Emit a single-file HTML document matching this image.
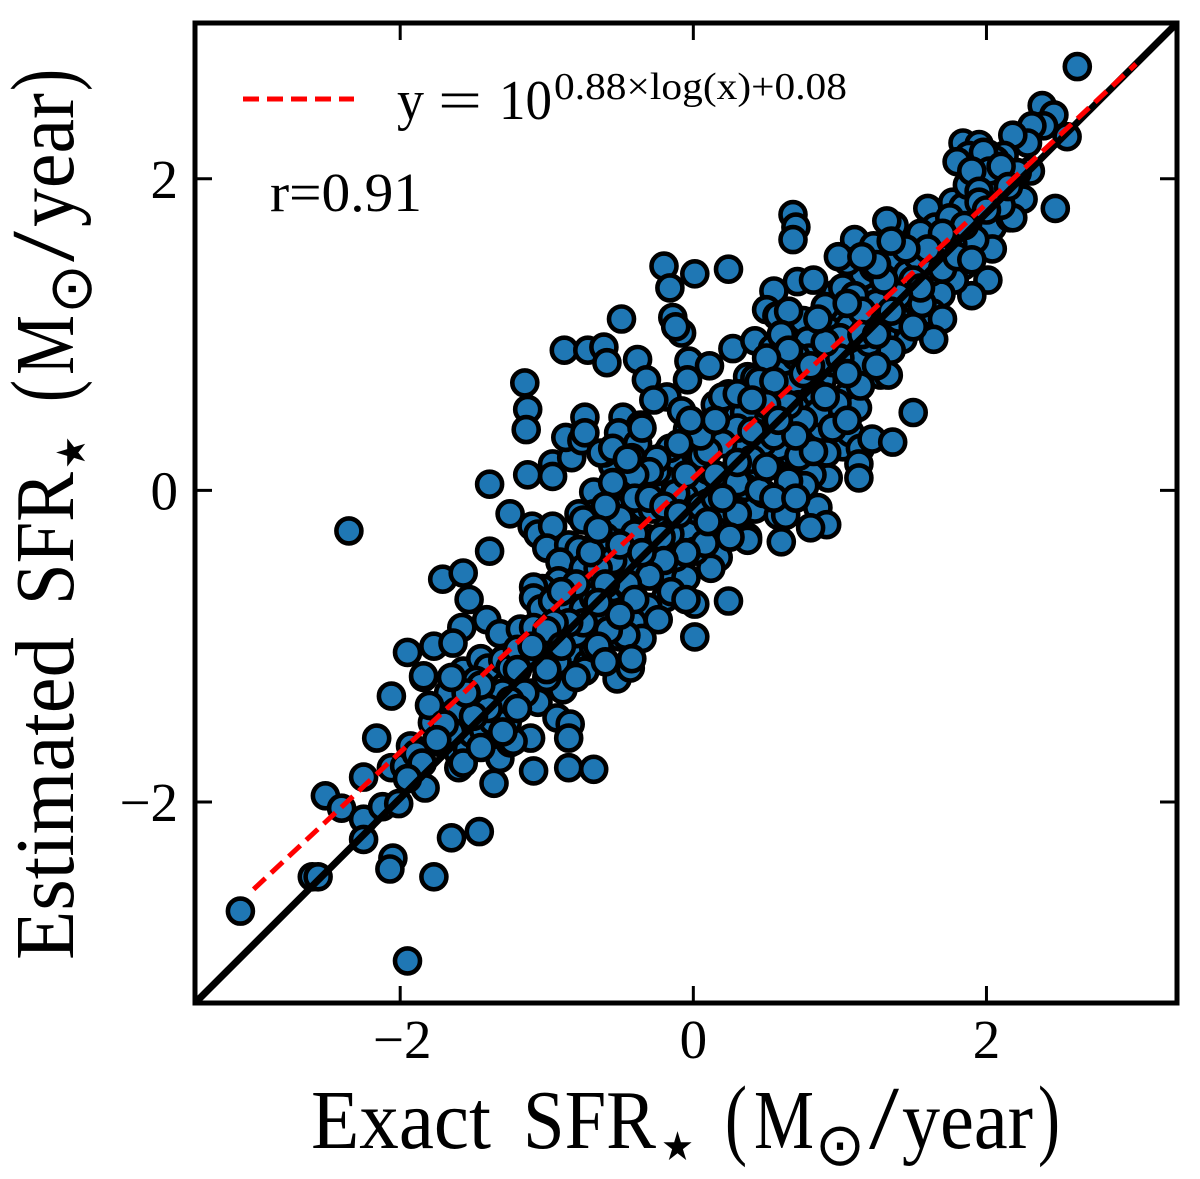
<!DOCTYPE html>
<html lang="en">
<head>
<meta charset="utf-8">
<title>Exact vs Estimated SFR</title>
<style>
  html, body { margin: 0; padding: 0; background: #fff; }
  svg { display: block; }
  text { font-family: "Liberation Serif", "DejaVu Serif", serif; fill: #000; }
  .sym { font-family: "DejaVu Sans", "Liberation Sans", sans-serif; }
</style>
</head>
<body>
<svg id="chart" xmlns="http://www.w3.org/2000/svg" width="1200" height="1179" viewBox="0 0 1200 1179">
  <rect x="0" y="0" width="1200" height="1179" fill="#fff"/>
  <g id="points"></g>
  <g id="lines"></g>
  <g id="ticks"></g>
  <rect x="195" y="23" width="982" height="980" fill="none" stroke="#000" stroke-width="5"/>
  <g id="tick-labels"></g>

  <g>
    <line x1="243" y1="99" x2="354" y2="99" stroke="#ff0000" stroke-width="5" stroke-dasharray="16 8"/>
    <g>
      <text x="397" y="119" font-size="56" textLength="27" lengthAdjust="spacingAndGlyphs">y</text>
      <text x="438" y="119" font-size="56" textLength="44" lengthAdjust="spacingAndGlyphs">=</text>
      <text x="499" y="119" font-size="56" textLength="53" lengthAdjust="spacingAndGlyphs">10</text>
      <text x="554" y="99" font-size="38" textLength="293" lengthAdjust="spacingAndGlyphs">0.88×log(x)+0.08</text>
    </g>
  </g>
  <text x="270" y="211" font-size="55" textLength="152" lengthAdjust="spacingAndGlyphs">r=0.91</text>

  <g>
    <text x="311" y="1148" font-size="84" textLength="180" lengthAdjust="spacingAndGlyphs">Exact</text>
    <text x="523" y="1148" font-size="84" textLength="133" lengthAdjust="spacingAndGlyphs">SFR</text>
    <text class="sym" x="661" y="1160" font-size="40" textLength="33" lengthAdjust="spacingAndGlyphs">★</text>
    <text x="725" y="1148" font-size="90" textLength="22" lengthAdjust="spacingAndGlyphs">(</text>
    <text x="754" y="1148" font-size="84" textLength="60" lengthAdjust="spacingAndGlyphs">M</text>
    <text class="sym" x="815" y="1165" font-size="60" textLength="50" lengthAdjust="spacingAndGlyphs">⊙</text>
    <text x="869" y="1148" font-size="90" textLength="30" lengthAdjust="spacingAndGlyphs">/</text>
    <text x="902" y="1148" font-size="84" textLength="131" lengthAdjust="spacingAndGlyphs">year</text>
    <text x="1038" y="1148" font-size="90" textLength="22" lengthAdjust="spacingAndGlyphs">)</text>
  </g>

  <g transform="translate(73,960) rotate(-90)">
    <text x="0" y="0" font-size="84" textLength="323" lengthAdjust="spacingAndGlyphs">Estimated</text>
    <text x="355" y="0" font-size="84" textLength="133" lengthAdjust="spacingAndGlyphs">SFR</text>
    <text class="sym" x="491" y="12" font-size="40" textLength="33" lengthAdjust="spacingAndGlyphs">★</text>
    <text x="558" y="0" font-size="90" textLength="22" lengthAdjust="spacingAndGlyphs">(</text>
    <text x="585" y="0" font-size="84" textLength="60" lengthAdjust="spacingAndGlyphs">M</text>
    <text class="sym" x="646" y="18" font-size="60" textLength="50" lengthAdjust="spacingAndGlyphs">⊙</text>
    <text x="698" y="0" font-size="90" textLength="31" lengthAdjust="spacingAndGlyphs">/</text>
    <text x="733" y="0" font-size="84" textLength="134" lengthAdjust="spacingAndGlyphs">year</text>
    <text x="869" y="0" font-size="90" textLength="22" lengthAdjust="spacingAndGlyphs">)</text>
  </g>
</svg>
<script>
const exactValues = [
  -3.09,-1.95,-2.60,-2.56,-2.51,-2.40,-2.25,-2.25,-2.12,-2.01,
  -1.83,-2.05,-2.07,-1.77,-1.65,-1.46,-2.25,-2.06,-1.97,-1.93,
  -1.89,-2.16,-2.06,-1.72,-1.60,-1.60,-1.54,-1.57,-1.51,-1.43,
  -1.37,-1.32,-1.36,-1.76,-1.78,-1.75,-1.67,-1.52,-1.42,-1.84,
  -1.25,-2.35,-1.39,-1.25,-1.39,-1.13,-0.96,-0.96,-0.83,-0.87,
  -0.76,-0.55,-0.61,-0.68,-0.51,-0.45,-0.68,-0.50,-0.78,-0.75,
  -0.60,-1.10,-1.06,-0.96,-1.00,-0.85,-0.78,-0.91,-0.75,-0.92,
  -0.72,-1.03,-1.09,-1.09,-1.04,-0.96,-0.84,-0.75,-0.55,-0.68,
  -0.50,-0.55,-0.48,-0.57,-1.53,-1.71,-1.57,-1.41,-1.58,-1.32,
  -1.18,-1.09,-1.77,-1.64,-1.95,-1.84,-1.57,-1.45,-1.40,-1.30,
  -1.25,-1.16,-1.03,-0.83,-0.93,-0.72,-0.74,-0.68,-0.52,-0.43,
  -0.89,-1.10,-1.06,-0.93,-0.84,-0.85,-1.11,-1.23,-1.27,-1.80,
  -0.85,-0.68,-1.09,-0.20,0.01,0.24,-0.16,-0.14,-0.08,-0.12,
  -0.49,-0.88,-0.72,-0.61,-0.59,-0.38,-0.32,-1.15,-1.13,-1.14,
  -0.03,0.11,-0.04,0.27,0.42,0.55,0.50,0.57,0.54,0.48,
  0.37,0.33,0.24,-0.18,-0.27,-0.08,-0.74,-0.48,-0.36,-0.51,
  -0.38,-0.74,-0.63,-0.55,-0.42,0.00,0.12,-0.04,0.18,-0.18,
  -0.14,0.29,0.38,0.50,0.57,0.55,0.44,0.29,0.03,0.10,
  -0.18,-0.29,-0.19,0.10,0.25,0.42,0.58,0.22,-0.17,-0.34,
  0.00,-0.31,-0.04,0.37,-0.35,0.79,0.87,1.11,1.02,1.07,
  1.14,1.22,1.13,1.13,0.91,0.92,0.81,0.76,0.65,0.66,
  0.63,0.85,0.91,0.80,0.60,0.37,0.17,0.12,0.01,-0.24,
  -0.14,-0.05,-0.19,-0.31,0.01,0.24,0.01,-0.24,-0.41,-0.35,
  -0.46,-0.42,-0.16,-0.46,0.23,0.15,-0.16,0.08,-0.12,-0.38,
  -0.29,0.68,0.70,0.68,1.10,1.37,1.32,1.40,1.60,1.65,
  1.77,1.84,1.96,2.04,2.16,2.12,2.04,1.92,1.84,2.01,
  1.90,1.78,1.69,1.63,1.70,1.64,1.47,1.43,1.33,1.43,
  1.56,1.16,1.05,0.99,1.23,1.24,1.37,0.97,0.97,0.71,
  0.82,0.58,0.68,0.75,0.78,0.79,0.92,1.06,1.07,1.30,
  1.28,1.33,1.14,1.04,1.12,1.14,0.98,1.50,1.36,0.80,
  0.68,0.58,0.88,0.58,1.46,1.53,1.69,1.77,1.55,1.23,
  1.02,2.62,2.38,2.46,2.39,2.31,2.28,2.55,2.18,2.47,
  2.12,2.01,2.06,1.84,1.95,1.88,1.80,2.30,2.21,2.08,
  1.87,2.25,2.18,2.10,-0.80,-0.66,-0.58,-0.44,-0.40,-0.28,
  -0.22,-0.06,0.06,0.18,0.32,0.40,0.47,0.62,0.72,0.84,
  0.95,1.00,1.18,1.25,0.90,0.62,0.70,0.26,0.15,0.42,
  -0.25,-0.12,0.20,0.72,-1.20,-1.48,-1.62,0.48,0.82,0.35,
  1.98,2.02,1.90,1.95,2.10,2.15,1.75,1.85,1.95,2.00,
  1.70,1.60,1.62,1.50,1.55,1.70,1.80,1.90,1.45,1.35,
  1.40,1.30,1.25,1.15,1.10,1.15,1.05,1.20,1.30,1.40,
  1.50,1.35,1.25,1.00,1.05,0.90,0.85,0.65,0.60,0.65,
  0.50,0.45,0.55,0.75,0.85,0.95,1.05,0.75,0.65,0.50,
  0.35,0.30,0.20,0.10,0.05,-0.05,-0.10,-0.25,-0.30,-0.40,
  -0.45,-0.55,-0.60,-0.40,-0.30,-0.20,-0.10,0.05,0.15,0.15,
  0.30,0.40,0.55,0.70,0.45,0.55,0.70,0.30,0.25,0.10,
  -0.05,-0.20,-0.30,-0.45,-0.55,-0.65,-0.70,-0.65,-0.50,-0.35,
  -0.15,-0.05,-0.40,-0.50,-0.60,-0.65,-0.75,-0.80,-0.90,-0.85,
  -0.95,-1.00,-1.10,-1.20,-1.15,-1.00,-0.90,-0.65,-0.60,-0.80,
  -1.00,-1.30,-1.25,-1.40,-1.50,-1.65,-1.70,-1.45,-1.30,-1.45,
  -1.55,-1.65,-1.75,-1.85,-1.95,-1.20,0.30,0.40,0.15,-0.02,
  0.58,0.80,0.90,1.15,1.25,1.35,0.40,0.50,0.30,0.20
];
const estimatedValues = [
  -2.70,-3.02,-2.48,-2.48,-1.96,-2.04,-2.11,-2.24,-2.03,-2.01,
  -1.91,-2.36,-2.43,-2.48,-2.23,-2.19,-1.84,-1.78,-1.77,-1.64,
  -1.69,-1.59,-1.32,-1.62,-1.69,-1.78,-1.66,-1.75,-1.56,-1.54,
  -1.48,-1.72,-1.88,-1.45,-1.49,-1.39,-1.30,-1.38,-1.35,-1.20,
  -1.62,-0.26,0.04,-0.15,-0.39,0.10,0.17,0.09,0.21,0.34,
  0.32,0.16,0.24,-0.01,0.00,-0.10,-0.15,-0.18,-0.15,-0.19,
  -0.30,-0.23,-0.28,-0.23,-0.37,-0.35,-0.38,-0.46,-0.50,-0.58,
  -0.62,-0.63,-0.62,-0.69,-0.76,-0.71,-0.76,-0.76,-0.73,-0.69,
  -0.94,-0.63,-0.47,-0.56,-0.70,-0.57,-0.53,-0.83,-0.88,-0.92,
  -0.89,-0.88,-1.00,-0.98,-1.04,-1.19,-1.16,-1.08,-1.14,-1.09,
  -1.14,-1.07,-1.01,-1.03,-1.10,-1.11,-1.16,-1.01,-1.21,-1.14,
  -1.28,-1.30,-1.36,-1.46,-1.50,-1.59,-1.59,-1.61,-1.49,-1.38,
  -1.78,-1.79,-1.80,1.44,1.39,1.42,1.30,1.11,1.01,1.05,
  1.10,0.90,0.90,0.92,0.82,0.84,0.71,0.69,0.52,0.39,
  0.83,0.80,0.71,0.91,0.96,1.28,1.16,1.12,0.91,0.76,
  0.73,0.62,0.62,0.60,0.58,0.51,0.47,0.47,0.42,0.37,
  0.30,0.37,0.24,0.27,0.21,0.28,0.37,0.39,0.40,0.24,
  0.17,0.30,0.40,0.44,0.60,0.21,0.10,0.14,0.03,0.13,
  0.06,0.03,-0.08,-0.08,-0.05,-0.12,-0.16,-0.17,-0.19,-0.11,
  -0.17,-0.31,-0.28,-0.30,0.40,0.37,0.40,0.53,0.28,0.37,
  0.27,0.33,0.17,0.08,0.24,0.08,0.10,0.03,0.06,0.24,
  -0.16,-0.11,-0.22,-0.24,-0.33,-0.32,-0.43,-0.50,-0.39,-0.55,
  -0.53,-0.56,-0.69,-0.75,-0.73,-0.71,-0.94,-0.83,-0.85,-0.95,
  -0.93,-1.08,0.27,0.02,-0.18,-0.26,-0.28,-0.34,-0.43,-0.56,
  -0.43,1.77,1.69,1.61,1.61,1.70,1.73,1.49,1.81,1.69,
  1.85,1.82,1.75,1.69,1.75,1.84,1.55,1.61,1.44,1.35,
  1.25,1.35,1.26,1.14,1.10,0.97,1.10,0.97,1.06,1.22,
  1.20,1.38,1.47,1.50,1.57,1.24,1.33,1.26,1.13,1.34,
  1.35,1.12,1.03,1.09,0.96,0.85,1.03,1.05,0.93,0.91,
  0.74,0.74,0.83,0.60,0.53,0.67,0.56,0.50,0.31,0.57,
  0.69,0.60,0.71,0.28,1.39,1.50,1.56,1.58,1.65,1.43,
  1.30,2.72,2.47,2.41,2.34,2.34,2.23,2.27,2.28,1.81,
  2.15,2.16,2.12,2.23,2.22,2.15,2.11,2.05,2.04,1.98,
  1.96,1.87,1.75,1.83,-0.92,-0.84,-0.90,-0.62,-0.28,-0.12,
  -0.30,-0.04,0.22,0.08,0.26,0.48,0.30,0.44,0.55,0.62,
  0.82,0.98,1.05,1.20,1.18,0.83,0.86,0.48,0.55,0.72,
  0.12,-0.02,0.60,0.22,-1.02,-1.22,-1.42,-0.02,0.25,0.02,
  2.17,2.05,2.05,1.92,2.08,1.95,1.75,1.70,1.85,1.80,
  1.65,1.55,1.40,1.35,1.30,1.42,1.50,1.48,1.55,1.60,
  1.25,1.35,1.45,1.50,1.25,1.15,1.20,0.95,1.00,1.10,
  1.05,0.90,0.80,0.85,0.75,0.95,1.10,1.15,1.00,0.90,
  0.85,0.70,0.70,0.75,0.50,0.40,0.45,0.45,0.55,0.55,
  0.50,0.40,0.30,0.25,0.35,0.10,0.30,0.20,0.12,0.10,
  0.20,0.05,-0.10,-0.05,-0.05,-0.10,-0.15,-0.10,-0.05,0.10,
  0.05,0.20,0.35,0.35,0.00,-0.05,-0.05,-0.15,-0.30,-0.20,
  -0.40,-0.45,-0.55,-0.60,-0.45,-0.50,-0.40,-0.25,-0.35,-0.40,
  -0.65,-0.70,-0.70,-0.80,-0.60,-0.72,-0.85,-0.60,-0.65,-0.85,
  -0.85,-0.90,-1.00,-1.15,-1.30,-1.20,-1.00,-1.00,-1.10,-1.20,
  -1.15,-1.30,-1.35,-1.40,-1.45,-1.55,-1.50,-1.65,-1.55,-1.25,
  -1.30,-1.20,-1.60,-1.75,-1.85,-1.40,0.62,0.58,0.45,0.45,
  0.45,0.80,0.60,1.00,1.00,1.15,0.38,0.15,0.18,-0.05
];
const xTickValues = [-2, 0, 2];
const yTickValues = [-2, 0, 2];
const fitSlope = 0.88;
const fitIntercept = 0.08;
const fitRange = [-3.0, 3.02];
const xDomain = [-3.40, 3.30];
const yDomain = [-3.29, 3.00];

const NS = 'http://www.w3.org/2000/svg';
const plotLeft = 195, plotRight = 1177, plotTop = 23, plotBottom = 1003;
function xScale(v) { return plotLeft + (v - xDomain[0]) / (xDomain[1] - xDomain[0]) * (plotRight - plotLeft); }
function yScale(v) { return plotBottom - (v - yDomain[0]) / (yDomain[1] - yDomain[0]) * (plotBottom - plotTop); }
function fmtTick(v) { return v < 0 ? '\u2212' + Math.abs(v) : String(v); }

const pointsGroup = document.getElementById('points');
for (let i = 0; i < exactValues.length; i++) {
  const c = document.createElementNS(NS, 'circle');
  
  
  c.setAttribute('cx', xScale(exactValues[i]).toFixed(1));
  c.setAttribute('cy', yScale(estimatedValues[i]).toFixed(1));
  c.setAttribute('r', '12.5');
  c.setAttribute('fill', '#1f77b4');
  c.setAttribute('stroke', '#000');
  c.setAttribute('stroke-width', '4.6');
  pointsGroup.appendChild(c);
}

const linesGroup = document.getElementById('lines');
const unityLine = document.createElementNS(NS, 'line');


unityLine.setAttribute('x1', xScale(xDomain[0]));
unityLine.setAttribute('y1', yScale(yDomain[0]));
unityLine.setAttribute('x2', xScale(xDomain[1]));
unityLine.setAttribute('y2', yScale(yDomain[1]));
unityLine.setAttribute('stroke', '#000');
unityLine.setAttribute('stroke-width', '7');
linesGroup.appendChild(unityLine);

const fitLine = document.createElementNS(NS, 'line');


fitLine.setAttribute('x1', xScale(fitRange[0]));
fitLine.setAttribute('y1', yScale(fitSlope * fitRange[0] + fitIntercept));
fitLine.setAttribute('x2', xScale(fitRange[1]));
fitLine.setAttribute('y2', yScale(fitSlope * fitRange[1] + fitIntercept));
fitLine.setAttribute('stroke', '#ff0000');
fitLine.setAttribute('stroke-width', '5');
fitLine.setAttribute('stroke-dasharray', '16 8');
linesGroup.appendChild(fitLine);

const ticksGroup = document.getElementById('ticks');
const labelsGroup = document.getElementById('tick-labels');
const tickLen = 17;
function addTick(x1, y1, x2, y2) {
  const t = document.createElementNS(NS, 'line');
  
  
  t.setAttribute('x1', x1);
  t.setAttribute('y1', y1);
  t.setAttribute('x2', x2);
  t.setAttribute('y2', y2);
  t.setAttribute('stroke', '#000');
  t.setAttribute('stroke-width', '3');
  ticksGroup.appendChild(t);
}
xTickValues.forEach(function (v) {
  const x = xScale(v);
  addTick(x, plotBottom, x, plotBottom - tickLen);
  addTick(x, plotTop, x, plotTop + tickLen);
  const label = document.createElementNS(NS, 'text');
  
  
  label.setAttribute('x', x + (v < 0 ? 2 : 0));
  label.setAttribute('y', 1058);
  label.setAttribute('font-size', '55');
  label.setAttribute('text-anchor', 'middle');
  label.textContent = fmtTick(v);
  labelsGroup.appendChild(label);
});
yTickValues.forEach(function (v) {
  const y = yScale(v);
  addTick(plotLeft, y, plotLeft + tickLen, y);
  addTick(plotRight, y, plotRight - tickLen, y);
  const label = document.createElementNS(NS, 'text');
  
  
  label.setAttribute('x', 178);
  label.setAttribute('y', y + 19);
  label.setAttribute('font-size', '55');
  label.setAttribute('text-anchor', 'end');
  label.textContent = fmtTick(v);
  labelsGroup.appendChild(label);
});
</script>
</body>
</html>
